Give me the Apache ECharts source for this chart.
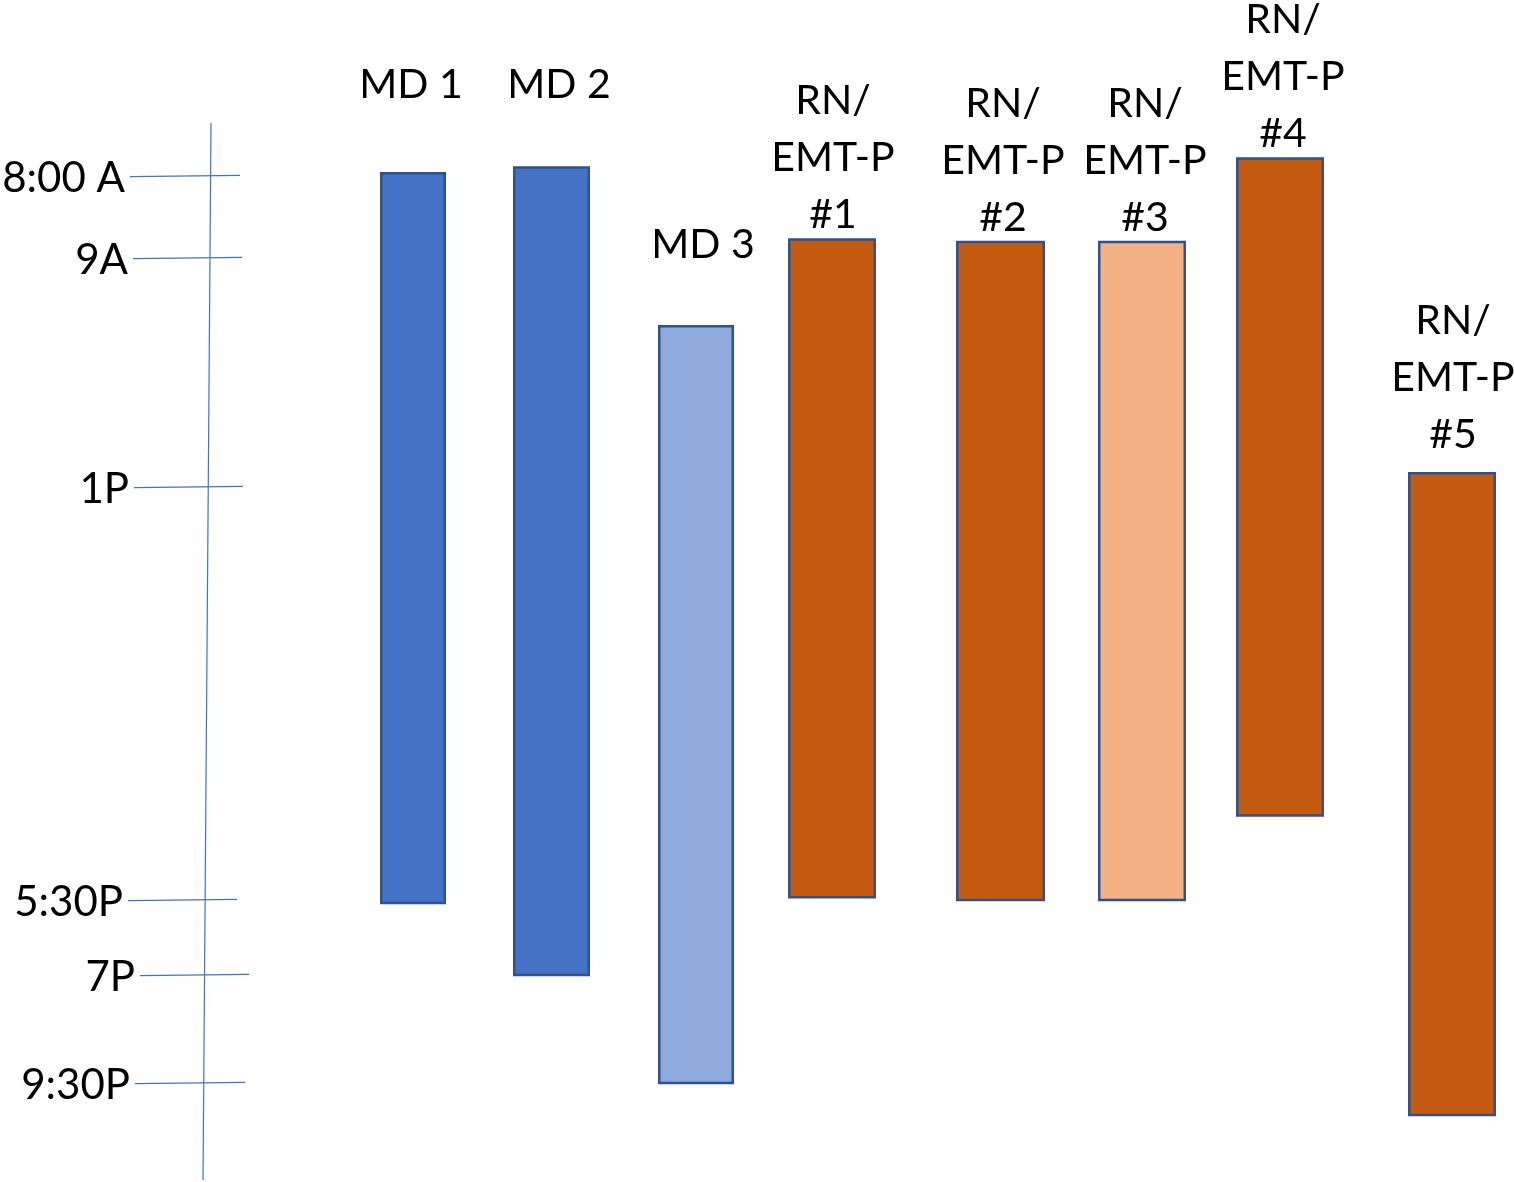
<!DOCTYPE html>
<html>
<head>
<meta charset="utf-8">
<title>Shift coverage</title>
<style>
  html, body { margin: 0; padding: 0; background: #ffffff; }
  #chart { width: 1514px; height: 1182px; }
</style>
<script src="https://cdn.jsdelivr.net/npm/echarts@6/dist/echarts.min.js"></script>
</head>
<body>
<div id="chart"></div>
<script>
// Staff on shift, times as hours of the day (24 h clock)
const roles = ['MD 1', 'MD 2', 'MD 3',
  'RN/\nEMT-P\n#1', 'RN/\nEMT-P\n#2', 'RN/\nEMT-P\n#3', 'RN/\nEMT-P\n#4', 'RN/\nEMT-P\n#5'];
const shiftStart = [7.95, 7.88, 10.17, 8.76, 8.79, 8.79, 7.77, 12.74];
const shiftEnd   = [17.56, 19.0, 21.5, 17.47, 17.5, 17.5, 16.58, 22.24];

// Hour marks on the time rule
const tickLabels = ['8:00 A', '9A', '1P', '5:30P', '7P', '9:30P'];
const tickHours  = [8, 9, 13, 17.5, 19, 21.5];

// ---- layout (screen units) ----
// The time rule is not evenly spaced: each hour mark sits at its own row.
const tickRows = [176, 258, 487, 900, 975, 1083];
const tickSpan = [[130, 240], [133, 242], [134, 243], [128, 237], [140, 249], [135, 245]];
const ruleEnds = [[211, 123], [203, 1180]];
const barCenter = [413, 551.5, 696, 832, 1000.5, 1142, 1280, 1452];
const barWidth  = [66, 77, 76, 88, 89, 88, 88, 88];
const barFill   = ['#4472C4', '#4472C4', '#8FAADC', '#C55A11', '#C55A11', '#F4B183', '#C55A11', '#C55A11'];
const labelCenter = [[411, 85], [559, 85], [703, 245], [833, 158], [1003, 161], [1145, 161], [1283, 77], [1453, 378]];
const FONT = 'Lato, "Open Sans", sans-serif';

// Piecewise-linear time scale through the hour marks; extends past the ends with the end slopes.
function timeToRow(h) {
  const n = tickHours.length;
  let i = 0;
  if (h <= tickHours[0]) i = 0;
  else if (h >= tickHours[n - 1]) i = n - 2;
  else { while (!(h >= tickHours[i] && h <= tickHours[i + 1])) i++; }
  const t = (h - tickHours[i]) / (tickHours[i + 1] - tickHours[i]);
  return tickRows[i] + t * (tickRows[i + 1] - tickRows[i]);
}

const chart = echarts.init(document.getElementById('chart'), null, { renderer: 'canvas' });

chart.setOption({
  animation: false,
  backgroundColor: '#ffffff',
  grid: { left: 0, right: 0, top: 0, bottom: 0 },
  xAxis: { type: 'value', min: 0, max: 1514, show: false },
  yAxis: { type: 'value', min: 0, max: 1182, inverse: true, show: false },
  series: [
    {
      // time rule: vertical line plus hour marks and their labels
      type: 'custom',
      name: 'time rule',
      data: tickHours.map((h, i) => [i, h]),
      renderItem: function (params, api) {
        const i = api.value(0);
        const row = timeToRow(api.value(1));
        const a = api.coord([tickSpan[i][0], row + 0.6]);
        const b = api.coord([tickSpan[i][1], row - 0.6]);
        const children = [
          { type: 'line', shape: { x1: a[0], y1: a[1], x2: b[0], y2: b[1] },
            style: { stroke: '#4472C4', lineWidth: 1.2 } },
          { type: 'text', x: a[0] - 5, y: a[1] + 2,
            style: { text: tickLabels[i], font: '42px ' + FONT, fill: '#000000',
                     align: 'right', verticalAlign: 'middle' } }
        ];
        if (params.dataIndex === 0) {
          const p = api.coord(ruleEnds[0]);
          const q = api.coord(ruleEnds[1]);
          children.push({ type: 'line', shape: { x1: p[0], y1: p[1], x2: q[0], y2: q[1] },
            style: { stroke: '#4472C4', lineWidth: 1.2 } });
        }
        return { type: 'group', children: children };
      }
    },
    {
      // one bar per staff member, from shift start to shift end
      type: 'custom',
      name: 'shifts',
      data: roles.map((r, i) => [i, shiftStart[i], shiftEnd[i]]),
      renderItem: function (params, api) {
        const i = api.value(0);
        const top = api.coord([barCenter[i], timeToRow(api.value(1))]);
        const bot = api.coord([barCenter[i], timeToRow(api.value(2))]);
        const w = api.size([barWidth[i], 0])[0];
        const lw = 2.5;
        const lab = api.coord(labelCenter[i]);
        return {
          type: 'group',
          children: [
            { type: 'rect',
              shape: { x: top[0] - w / 2 + lw / 2, y: top[1] + lw / 2, width: w - lw, height: bot[1] - top[1] - lw / 2 },
              style: { fill: barFill[i], stroke: '#2F528F', lineWidth: lw } },
            { type: 'text', x: lab[0], y: lab[1],
              style: { text: roles[i], font: '41px ' + FONT, fill: '#000000',
                       align: 'center', verticalAlign: 'middle', lineHeight: 57 } }
          ]
        };
      }
    }
  ]
});
</script>
</body>
</html>
